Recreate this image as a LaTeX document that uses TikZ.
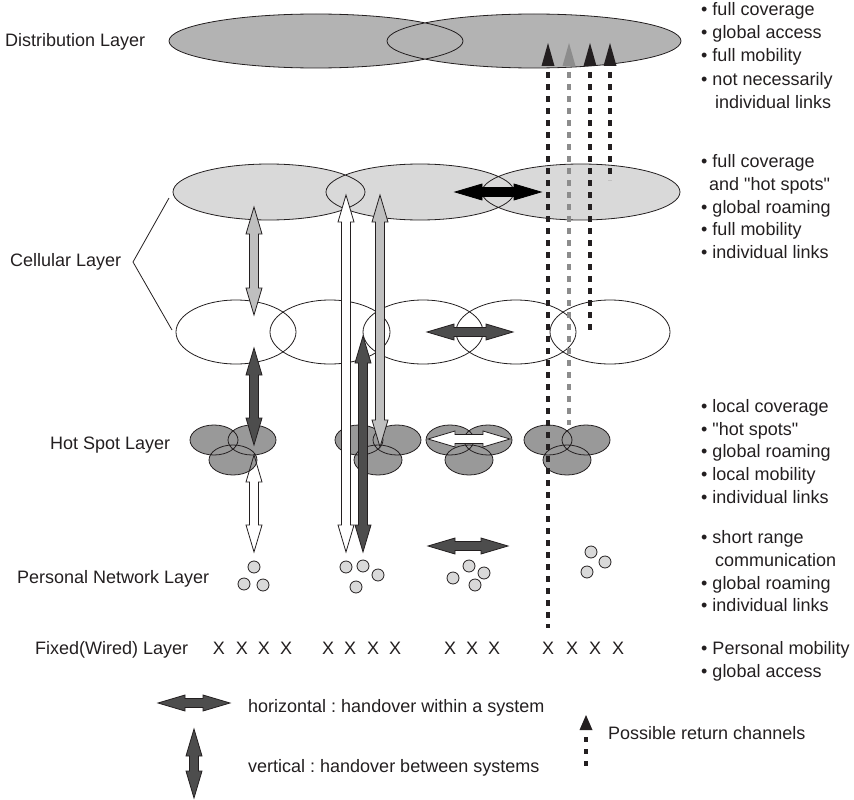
\documentclass[tikz,border=0pt]{standalone}
\usepackage{fontspec}
\setmainfont{Liberation Sans}[Ligatures=TeXOff]
\definecolor{ink}{HTML}{231F20}
\definecolor{distfill}{HTML}{B3B3B3}
\definecolor{cellfill}{HTML}{D9D9D9}
\definecolor{hsfill}{HTML}{999999}
\definecolor{pnfill}{HTML}{D9D9D9}
\definecolor{darkar}{HTML}{4D4D4D}
\definecolor{lightar}{HTML}{BFBFBF}
\definecolor{graydash}{HTML}{8C8C8C}
\newcommand\VDA[4]{%
 \path[#1] (#2-8,#3+27) -- (#2,#3) -- (#2+8,#3+27) -- (#2+4.5,#3+27) -- (#2+4.5,#4-27) -- (#2+8,#4-27) -- (#2,#4) -- (#2-8,#4-27) -- (#2-4.5,#4-27) -- (#2-4.5,#3+27) -- cycle;}
\newcommand\HDA[4]{%
 \path[#1] (#3+27,#2-8) -- (#3,#2) -- (#3+27,#2+8) -- (#3+27,#2+4.5) -- (#4-27,#2+4.5) -- (#4-27,#2+8) -- (#4,#2) -- (#4-27,#2-8) -- (#4-27,#2-4.5) -- (#3+27,#2-4.5) -- cycle;}
\newcommand\HSC[3]{%
 \path[fill=hsfill] (#1,440) ellipse [x radius=24pt, y radius=15pt]
   (#2,440) ellipse [x radius=24pt, y radius=15pt]
   (#3,460) ellipse [x radius=24pt, y radius=15pt];
 \draw[ol] (#1,440) ellipse [x radius=24pt, y radius=15pt]
   (#2,440) ellipse [x radius=24pt, y radius=15pt]
   (#3,460) ellipse [x radius=24pt, y radius=15pt];}
\begin{document}
\frenchspacing
\begin{tikzpicture}[x=1pt,y=-1pt,
  ol/.style={draw=ink,line width=0.8pt},
  txt/.style={font=\fontsize{18}{22}\selectfont,text=ink,inner sep=0pt,anchor=base west},
  xmark/.style={font=\fontsize{18}{22}\selectfont,text=ink,inner sep=0pt,anchor=base},
  blackar/.style={fill=black,draw=black,line width=0.8pt},
  darkarrow/.style={fill=darkar,draw=ink,line width=0.8pt},
  lightarrow/.style={fill=lightar,draw=ink,line width=0.8pt},
  whitearrow/.style={fill=white,draw=ink,line width=0.8pt},
  outlinearrow/.style={draw=ink,line width=0.8pt},
  dsh/.style={line width=4pt,dash pattern=on 6pt off 6pt},
  pn/.style={fill=pnfill,draw=ink,line width=0.8pt}]
\useasboundingbox (0,0) rectangle (854,800);

% Distribution layer
\path[fill=distfill] (316,41) ellipse [x radius=147pt, y radius=27pt]
  (534,41) ellipse [x radius=147pt, y radius=27pt];
\draw[ol] (316,41) ellipse [x radius=147pt, y radius=27pt]
  (534,41) ellipse [x radius=147pt, y radius=27pt];

% Cellular upper
\path[fill=cellfill] (269,192) ellipse [x radius=96pt, y radius=28pt]
  (420,192) ellipse [x radius=94pt, y radius=28pt]
  (581,192) ellipse [x radius=99pt, y radius=28pt];
\draw[ol] (269,192) ellipse [x radius=96pt, y radius=28pt]
  (420,192) ellipse [x radius=94pt, y radius=28pt]
  (581,192) ellipse [x radius=99pt, y radius=28pt];

% Cellular lower
\foreach \cx in {236,330,423,516,610}
  \draw[ol] (\cx,332) ellipse [x radius=60pt, y radius=32pt];

% bracket
\coordinate (bt) at (169,198);
\coordinate (bm) at (133,262);
\coordinate (bb) at (172,330);
\draw[ol] (bt) -- (bm) -- (bb);

% Hot spot clusters
\HSC{214}{252}{233}
\HSC{359}{397}{378}
\HSC{450}{488}{469}
\HSC{548}{586}{567}

% white arrow below cluster 1 (outline shows over hot spot)
\VDA{outlinearrow}{254}{455}{552}

% Personal network circles
\foreach \px/\py in {254/567,244/584,263/585,
   346/567,363/566,378/575,356/587,
   469/566,484/573,453/578,475/585,
   591/552,605/562,587/572}
  \draw[pn] (\px,\py) circle [radius=6pt];

% block arrows
\HDA{blackar}{192}{455}{541}
\HDA{darkarrow}{332}{427}{513}
\HDA{whitearrow}{439}{428}{510}
\HDA{darkarrow}{546}{428}{508}
\VDA{lightarrow}{254}{207}{315}
\VDA{whitearrow}{346}{195}{552}
\VDA{lightarrow}{380}{195}{447}
\VDA{darkarrow}{363}{336}{552}
\VDA{darkarrow}{254}{348}{445}

% return channels
\coordinate (d1t) at (548,72); \coordinate (d1b) at (548,628);
\coordinate (d2t) at (569,72); \coordinate (d2b) at (569,425);
\coordinate (d3t) at (590,72); \coordinate (d3b) at (590,332);
\coordinate (d4t) at (610,72); \coordinate (d4b) at (610,180);
\draw[dsh,draw=ink] (d1t) -- (d1b);
\draw[dsh,draw=graydash] (d2t) -- (d2b);
\draw[dsh,draw=ink] (d3t) -- (d3b);
\draw[dsh,draw=ink] (d4t) -- (d4b);
\path[fill=ink] (541.5,66) -- (548,43) -- (554.5,66) -- cycle;
\path[fill=graydash] (562.5,66) -- (569,43) -- (575.5,66) -- cycle;
\path[fill=ink] (583.5,66) -- (590,43) -- (596.5,66) -- cycle;
\path[fill=ink] (603.5,66) -- (610,43) -- (616.5,66) -- cycle;

% left labels
\node[txt] (ldist) at (5,47) {Distribution Layer};
\node[txt] (lcell) at (10,266) {Cellular Layer};
\node[txt] (lhot) at (50,449) {Hot Spot Layer};
\node[txt] (lpers) at (17,583) {Personal Network Layer};
\node[txt] (lfix) at (35,654) {Fixed(Wired) Layer};

% X marks
\foreach \xx [count=\i] in {219,242,264,286,328,350,373,395,450,472,494,548,572,595,618}
  \node[xmark] (xm\i) at (\xx,654) {X};

% right text
\node[txt] (r1) at (701,16) {• full coverage};
\node[txt] (r2) at (701,39) {• global access};
\node[txt] (r3) at (701,62) {• full mobility};
\node[txt] (r4) at (701,85) {• not necessarily};
\node[txt] (r5) at (715,108) {individual links};
\node[txt] (r6) at (701,167) {• full coverage};
\node[txt] (r7) at (709,190) {and "hot spots"};
\node[txt] (r8) at (701,213) {• global roaming};
\node[txt] (r9) at (701,235) {• full mobility};
\node[txt] (r10) at (701,258) {• individual links};
\node[txt] (r11) at (701,412) {• local coverage};
\node[txt] (r12) at (701,435) {• "hot spots"};
\node[txt] (r13) at (701,457) {• global roaming};
\node[txt] (r14) at (701,480) {• local mobility};
\node[txt] (r15) at (701,503) {• individual links};
\node[txt] (r16) at (701,543) {• short range};
\node[txt] (r17) at (715,566) {communication};
\node[txt] (r18) at (701,589) {• global roaming};
\node[txt] (r19) at (701,611) {• individual links};
\node[txt] (r20) at (701,654) {• Personal mobility};
\node[txt] (r21) at (701,677) {• global access};

% legend
\HDA{darkarrow}{703}{158}{230}
\VDA{darkarrow}{194}{729}{798}
\node[txt] (lg1) at (248,712) {horizontal : handover within a system};
\node[txt] (lg2) at (248,772) {vertical : handover between systems};
\path[fill=ink] (579.5,730) -- (586,715) -- (592.5,730) -- cycle;
\coordinate (lgdt) at (586,737); \coordinate (lgdb) at (586,768);
\draw[line width=4pt,dash pattern=on 5pt off 7pt,draw=ink] (lgdt) -- (lgdb);
\node[txt] (lg3) at (608,739) {Possible return channels};
\end{tikzpicture}
\end{document}
